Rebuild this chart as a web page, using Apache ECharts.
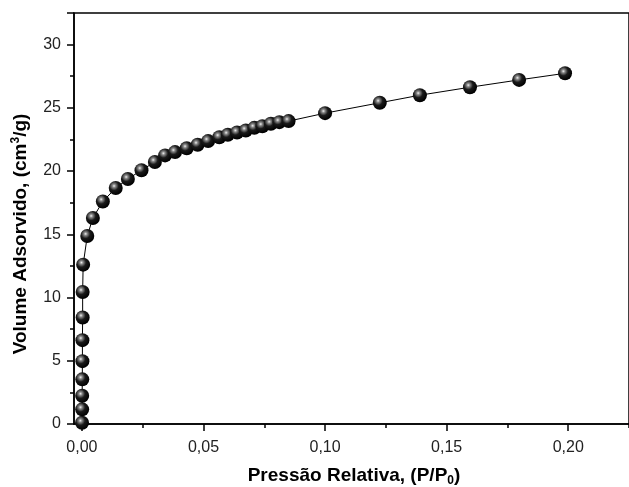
<!DOCTYPE html>
<html>
<head>
<meta charset="utf-8">
<script src="https://cdn.jsdelivr.net/npm/echarts@6/dist/echarts.min.js"></script>
<style>
  html, body { margin: 0; padding: 0; background: #fff; }
  #chart { width: 629px; height: 487px; }
</style>
</head>
<body>
<div id="chart"></div>
<script>
// pressao relativa (P/P0) e volume adsorvido (cm3/g)
const pressure = [0.00005, 0.0001, 0.0001, 0.00015, 0.0002, 0.0002, 0.0003, 0.0003, 0.0005, 0.0022,
    0.0045, 0.0086, 0.0139, 0.0189, 0.0245, 0.030, 0.0342, 0.0383, 0.0431, 0.0476,
    0.0519, 0.0565, 0.060, 0.0638, 0.0674, 0.0709, 0.0742, 0.0777, 0.0812, 0.085,
    0.100, 0.1225, 0.139, 0.1596, 0.1798, 0.1987];
const volume = [0.1, 1.16, 2.23, 3.53, 4.97, 6.63, 8.42, 10.44, 12.6, 14.87,
    16.29, 17.6, 18.66, 19.37, 20.07, 20.72, 21.24, 21.5, 21.8, 22.08,
    22.37, 22.68, 22.87, 23.05, 23.21, 23.42, 23.55, 23.74, 23.87, 23.95,
    24.58, 25.4, 26.0, 26.63, 27.21, 27.73];
const xTicks = [0, 0.05, 0.10, 0.15, 0.20];
const xMinorTicks = [0.025, 0.075, 0.125, 0.175, 0.225];

const font = '"Liberation Sans", Arial, sans-serif';
const chart = echarts.init(document.getElementById('chart'));

const ball = {
    type: 'radial', x: 0.38, y: 0.35, r: 0.65,
    colorStops: [
        {offset: 0, color: '#f0f0f0'},
        {offset: 0.18, color: '#8a8a8a'},
        {offset: 0.5, color: '#1a1a1a'},
        {offset: 1, color: '#000'}
    ]
};

const xMin = -0.00326, xMax = 0.225;
const axisLine = {show: true, onZero: false, lineStyle: {color: '#000', width: 1.5}};

chart.setOption({
    animation: false,
    backgroundColor: '#fff',
    grid: {left: 74, right: -5, top: 13, bottom: 63, show: true, borderColor: '#000', borderWidth: 1.5},
    xAxis: [{
        type: 'value', min: xMin, max: xMax,
        axisLine: axisLine,
        axisTick: {show: true, length: 7, customValues: xTicks, lineStyle: {color: '#000', width: 1.5}},
        axisLabel: {
            customValues: xTicks, margin: 16, fontSize: 16, color: '#222', fontFamily: font,
            formatter: v => v.toFixed(2).replace('.', ',')
        },
        splitLine: {show: false}
    }, {
        type: 'value', min: xMin, max: xMax, position: 'bottom',
        axisLine: {show: false, onZero: false},
        axisTick: {show: true, length: 4, customValues: xMinorTicks, lineStyle: {color: '#000', width: 1.5}},
        axisLabel: {show: false},
        splitLine: {show: false}
    }],
    yAxis: {
        type: 'value', min: 0, max: 32.5, interval: 5,
        axisLine: axisLine,
        axisTick: {show: true, length: 7, lineStyle: {color: '#000', width: 1.5}},
        minorTick: {show: true, splitNumber: 2, length: 4, lineStyle: {color: '#000', width: 1.5}},
        axisLabel: {margin: 13, fontSize: 16, color: '#222', fontFamily: font, showMaxLabel: false},
        splitLine: {show: false}
    },
    graphic: [{
        type: 'text', x: 354, y: 476,
        style: {
            text: '{a|Pressão Relativa, (P/P}{s|0}{a|)}',
            align: 'center', verticalAlign: 'middle',
            rich: {
                a: {fontSize: 19, fontWeight: 'bold', fontFamily: font, fill: '#000', lineHeight: 22},
                s: {fontSize: 12, fontWeight: 'bold', fontFamily: font, fill: '#000', verticalAlign: 'bottom', padding: [9, 0, 0, 0]}
            }
        }
    }, {
        type: 'text', x: 21, y: 234, rotation: Math.PI / 2,
        style: {
            text: '{a|Volume Adsorvido, (cm}{p|3}{a|/g)}',
            align: 'center', verticalAlign: 'middle',
            rich: {
                a: {fontSize: 19, fontWeight: 'bold', fontFamily: font, fill: '#000', lineHeight: 22},
                p: {fontSize: 12, fontWeight: 'bold', fontFamily: font, fill: '#000', verticalAlign: 'top', padding: [0, 0, 9, 0]}
            }
        }
    }],
    series: [{
        type: 'line',
        data: pressure.map((p, i) => [p, volume[i]]),
        symbol: 'circle', symbolSize: 14,
        itemStyle: {color: ball},
        lineStyle: {color: '#000', width: 1},
        clip: false
    }]
});
</script>
</body>
</html>
